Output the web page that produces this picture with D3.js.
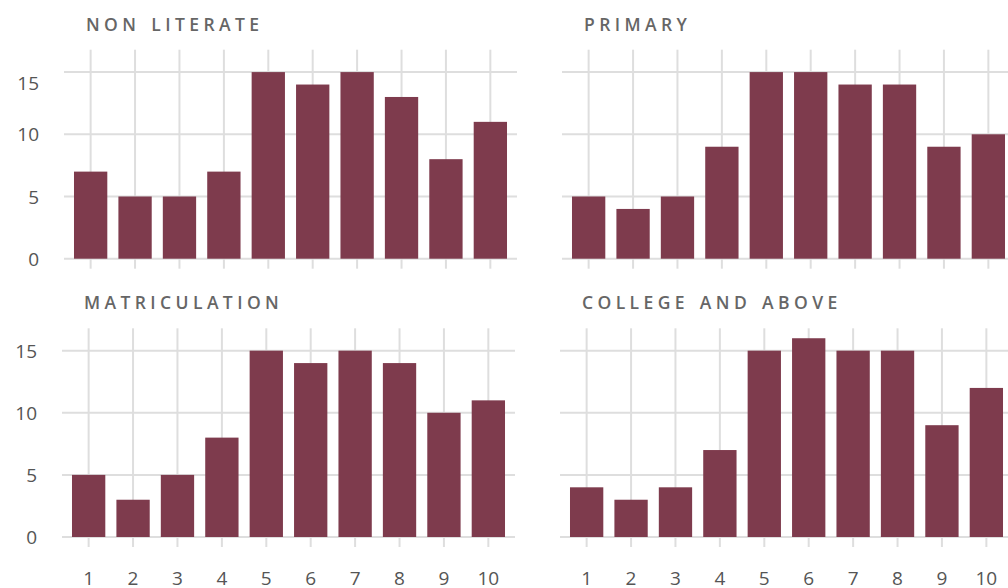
<!DOCTYPE html>
<html>
<head>
<meta charset="utf-8">
<script src="https://cdn.jsdelivr.net/npm/d3@7"></script>
<style>
  html, body { margin: 0; padding: 0; background: #fff; }
  svg { display: block; }
  .tick text { font-family: "Open Sans", sans-serif; font-size: 19px; fill: #555; }
  .title { font-family: "Open Sans", sans-serif; font-size: 17.5px; font-weight: 600; fill: #666; letter-spacing: 4.4px; word-spacing: 2px; }
</style>
</head>
<body>
<svg id="chart" width="1008" height="588"></svg>
<script>
const categories = ["1","2","3","4","5","6","7","8","9","10"];
const nonLiterate   = [7, 5, 5, 7, 15, 14, 15, 13, 8, 11];
const primary       = [5, 4, 5, 9, 15, 15, 14, 14, 9, 10];
const matriculation = [5, 3, 5, 8, 15, 14, 15, 14, 10, 11];
const collegeAbove  = [4, 3, 4, 7, 15, 16, 15, 15, 9, 12];
const panelTitles = ["NON LITERATE", "PRIMARY", "MATRICULATION", "COLLEGE AND ABOVE"];
const yTicks = [0, 5, 10, 15];
const yMax = 16.8;

const panels = [
  { title: panelTitles[0], values: nonLiterate,   row: 0, col: 0 },
  { title: panelTitles[1], values: primary,       row: 0, col: 1 },
  { title: panelTitles[2], values: matriculation, row: 1, col: 0 },
  { title: panelTitles[3], values: collegeAbove,  row: 1, col: 1 }
];

// layout
const rowY = [ {top: 49.7, bottom: 258.7}, {top: 328.3, bottom: 537} ];
const rowLeft = [64, 62];
const colOffset = 498;
const panelWidth = 453;
const barColor = "#7e3b4d";
const gridColor = "#dedede";

const svg = d3.select("#chart");

panels.forEach(p => {
  const x0 = rowLeft[p.row] + p.col * colOffset;
  const x = d3.scaleBand().domain(categories).range([x0, x0 + panelWidth])
    .paddingInner(0.25).paddingOuter(0.225);
  const y = d3.scaleLinear().domain([0, yMax]).range([rowY[p.row].bottom, rowY[p.row].top]);
  const g = svg.append("g");

  // horizontal grid
  g.selectAll("line.h").data(yTicks).join("line")
    .attr("x1", x0).attr("x2", x0 + panelWidth)
    .attr("y1", d => y(d)).attr("y2", d => y(d))
    .attr("stroke", gridColor).attr("stroke-width", 2);

  // vertical grid (extends below baseline as tick)
  g.selectAll("line.v").data(categories).join("line")
    .attr("x1", d => x(d) + x.bandwidth() / 2).attr("x2", d => x(d) + x.bandwidth() / 2)
    .attr("y1", y(yMax)).attr("y2", y(0) + 10)
    .attr("stroke", gridColor).attr("stroke-width", 2);

  // bars
  g.selectAll("rect").data(p.values).join("rect")
    .attr("x", (d, i) => x(categories[i]))
    .attr("width", x.bandwidth())
    .attr("y", d => y(d))
    .attr("height", d => y(0) - y(d))
    .attr("fill", barColor);

  // title
  g.append("text").attr("class", "title")
    .attr("x", x0 + 22).attr("y", y(yMax) - 19)
    .text(p.title);

  // y axis labels (left column only)
  if (p.col === 0) {
    const ay = g.append("g").attr("transform", `translate(${x0},0)`)
      .call(d3.axisLeft(y).tickValues(yTicks).tickSize(0).tickPadding(25));
    ay.select(".domain").remove();
    ay.selectAll(".tick text").attr("dy", d => (p.row === 0 && d === 15) ? "0.92em" : "0.35em");
  }

  // x axis labels (bottom row only)
  if (p.row === 1) {
    const ax = g.append("g").attr("transform", `translate(0,${y(0)})`)
      .call(d3.axisBottom(x).tickSize(0).tickPadding(35));
    ax.select(".domain").remove();
  }
});
</script>
</body>
</html>
